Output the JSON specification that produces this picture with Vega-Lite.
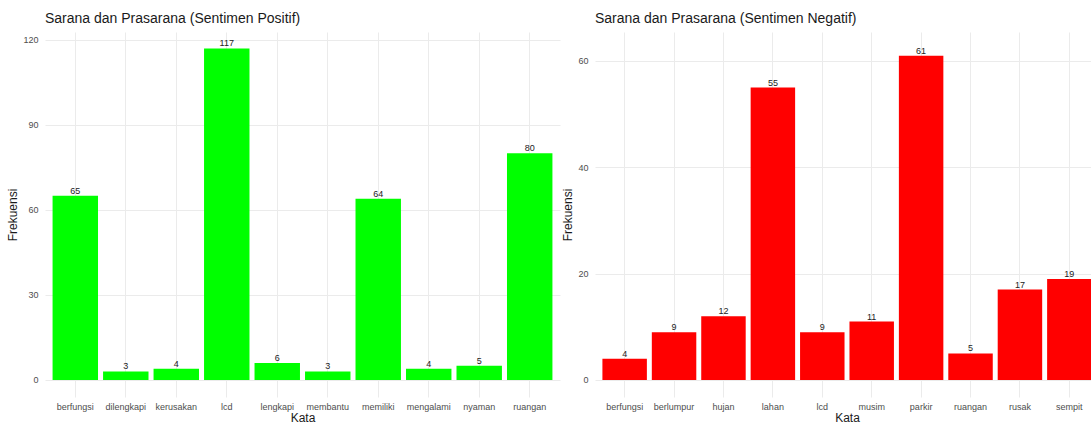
{
  "$schema": "https://vega.github.io/schema/vega-lite/v6.json",
  "padding": {"left": 6, "top": 12, "right": -8, "bottom": 0},
  "background": "white",
  "config": {
    "font": "Liberation Sans",
    "view": {"stroke": null},
    "axis": {"domain": false, "ticks": false, "gridColor": "#EBEBEB", "gridWidth": 1, "labelColor": "#4D4D4D", "labelFontSize": 9, "titleFontSize": 12, "titleFontWeight": "normal", "titleColor": "#1A1A1A", "labelPadding": 7},
    "title": {"fontSize": 14, "fontWeight": "normal", "color": "#1A1A1A", "anchor": "start", "frame": "group", "offset": 6},
    "concat": {"spacing": 1}
  },
  "datasets": {
    "pos": [
      {"kata": "berfungsi", "frekuensi": 65},
      {"kata": "dilengkapi", "frekuensi": 3},
      {"kata": "kerusakan", "frekuensi": 4},
      {"kata": "lcd", "frekuensi": 117},
      {"kata": "lengkapi", "frekuensi": 6},
      {"kata": "membantu", "frekuensi": 3},
      {"kata": "memiliki", "frekuensi": 64},
      {"kata": "mengalami", "frekuensi": 4},
      {"kata": "nyaman", "frekuensi": 5},
      {"kata": "ruangan", "frekuensi": 80}
    ],
    "neg": [
      {"kata": "berfungsi", "frekuensi": 4},
      {"kata": "berlumpur", "frekuensi": 9},
      {"kata": "hujan", "frekuensi": 12},
      {"kata": "lahan", "frekuensi": 55},
      {"kata": "lcd", "frekuensi": 9},
      {"kata": "musim", "frekuensi": 11},
      {"kata": "parkir", "frekuensi": 61},
      {"kata": "ruangan", "frekuensi": 5},
      {"kata": "rusak", "frekuensi": 17},
      {"kata": "sempit", "frekuensi": 19}
    ]
  },
  "hconcat": [
    {
      "title": "Sarana dan Prasarana (Sentimen Positif)",
      "width": 515,
      "height": 365,
      "data": {"name": "pos"},
      "encoding": {
        "x": {"field": "kata", "type": "nominal", "sort": null,
              "scale": {"paddingInner": 0.1, "paddingOuter": 0.15},
              "axis": {"labelAngle": 0, "title": "Kata", "grid": true, "bandPosition": 0.5, "titlePadding": 1, "labelPadding": 5}}
      },
      "layer": [
        {
          "mark": {"type": "bar", "color": "#00FF00"},
          "encoding": {
            "y": {"field": "frekuensi", "type": "quantitative",
                  "scale": {"domain": [-6, 122.8], "nice": false, "zero": false},
                  "axis": {"values": [0, 30, 60, 90, 120], "title": "Frekuensi", "titlePadding": 3}},
            "y2": {"datum": 0}
          }
        },
        {
          "mark": {"type": "text", "baseline": "bottom", "dy": 0, "fontSize": 9, "color": "#222222"},
          "encoding": {
            "y": {"field": "frekuensi", "type": "quantitative",
                  "axis": {"orient": "right", "values": [15, 45, 75, 105], "labels": false, "title": null, "gridWidth": 0.5, "gridColor": "#EFEFEF"}},
            "text": {"field": "frekuensi", "type": "quantitative"}
          }
        }
      ],
      "resolve": {"axis": {"y": "independent"}}
    },
    {
      "title": "Sarana dan Prasarana (Sentimen Negatif)",
      "width": 504,
      "height": 365,
      "data": {"name": "neg"},
      "encoding": {
        "x": {"field": "kata", "type": "nominal", "sort": null,
              "scale": {"paddingInner": 0.1, "paddingOuter": 0.15},
              "axis": {"labelAngle": 0, "title": "Kata", "grid": true, "bandPosition": 0.5, "titlePadding": 1, "labelPadding": 5}}
      },
      "layer": [
        {
          "mark": {"type": "bar", "color": "#FF0000"},
          "encoding": {
            "y": {"field": "frekuensi", "type": "quantitative",
                  "scale": {"domain": [-3.2, 65.45], "nice": false, "zero": false},
                  "axis": {"values": [0, 20, 40, 60], "title": "Frekuensi", "titlePadding": 3}},
            "y2": {"datum": 0}
          }
        },
        {
          "mark": {"type": "text", "baseline": "bottom", "dy": 0, "fontSize": 9, "color": "#222222"},
          "encoding": {
            "y": {"field": "frekuensi", "type": "quantitative",
                  "axis": {"orient": "right", "values": [10, 30, 50], "labels": false, "title": null, "gridWidth": 0.5, "gridColor": "#EFEFEF"}},
            "text": {"field": "frekuensi", "type": "quantitative"}
          }
        }
      ],
      "resolve": {"axis": {"y": "independent"}}
    }
  ]
}
